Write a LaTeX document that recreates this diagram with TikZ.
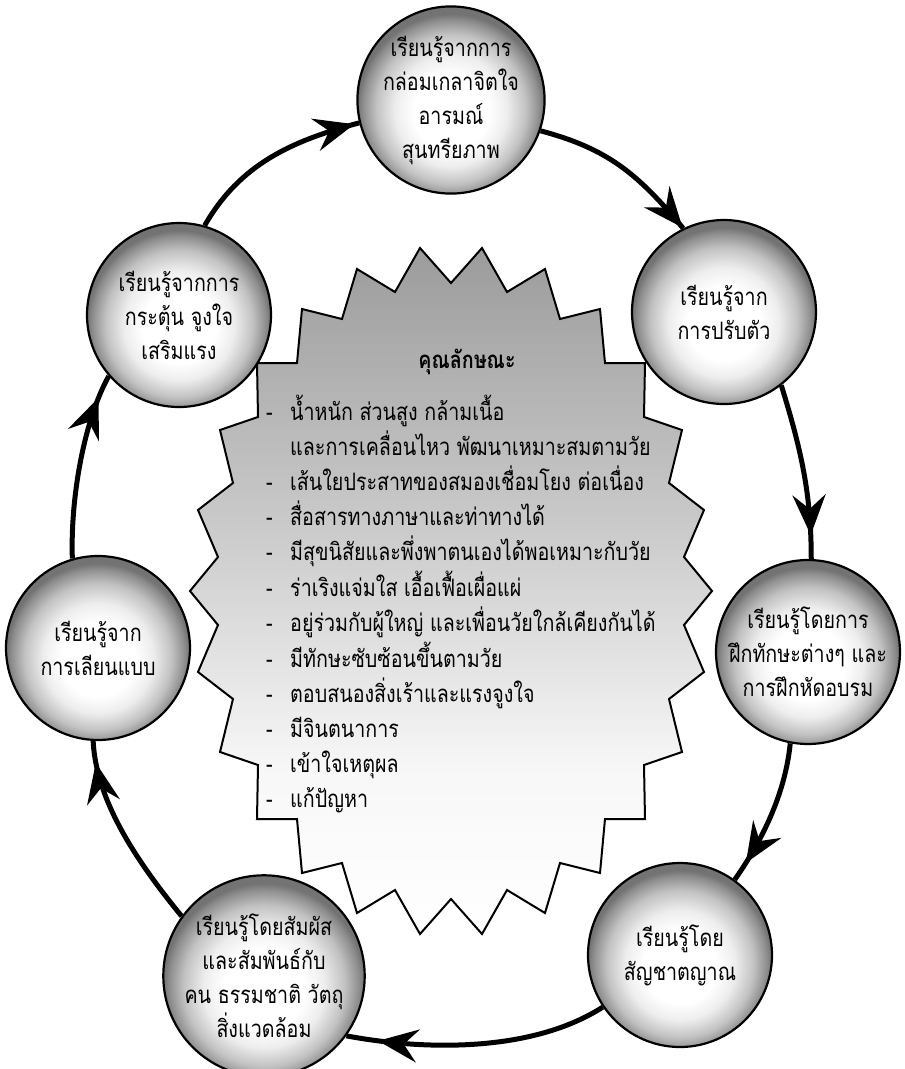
\documentclass[tikz,border=0pt]{standalone}
\usepackage{fontspec}
\setmainfont[Script=Thai,FakeStretch=0.82]{Loma}
\usetikzlibrary{arrows.meta,decorations.markings}
\pgfdeclareradialshading{ballshade}{\pgfpoint{0bp}{-4bp}}{color(0bp)=(white); color(10bp)=(white); color(15bp)=(black!7); color(20bp)=(black!24); color(23.5bp)=(black!44); color(25bp)=(black!55); color(50bp)=(black!55)}
\pgfdeclareverticalshading{starshade}{100bp}{color(0bp)=(white); color(25bp)=(white); color(37bp)=(black!3); color(55bp)=(black!21); color(75bp)=(black!39); color(100bp)=(black!39)}
\begin{document}
\begin{tikzpicture}[x=1pt,y=-1pt,
  ball/.style={circle,draw=black,line width=2.2pt,minimum size=184pt,inner sep=0pt,shading=ballshade,align=center,font=\fontsize{24}{34}\selectfont},
  conn/.style={line width=5pt},
  tipat/.style={postaction={decorate,decoration={markings,mark=at position #1 with {\arrow{Stealth[length=40pt,width=33pt,inset=14pt]}}}}},
  burst/.style={draw=black,line width=2pt,line join=miter,shading=starshade},
  listtext/.style={font=\fontsize{24}{35}\selectfont},
  titletext/.style={font=\fontsize{24}{35}\selectfont\bfseries}]
\useasboundingbox (0,0) rectangle (905,1069);

% central starburst
\begin{scope}[shift={(451,591)}]
\path[burst] (0,-308) -- (31,-343) -- (56,-299) -- (94,-322) -- (109,-272) -- (149,-282)
 -- (154,-228) -- (194,-228) -- (193,-174) -- (231,-161) -- (218,-108) -- (253,-81)
 -- (233,-34) -- (261,0) -- (233,34) -- (253,81) -- (218,108) -- (231,161) -- (193,174)
 -- (194,228) -- (154,228) -- (149,282) -- (109,272) -- (94,322) -- (56,299) -- (31,343)
 -- (0,308) -- (-31,343) -- (-56,299) -- (-94,322) -- (-109,272) -- (-149,282)
 -- (-154,228) -- (-194,228) -- (-193,174) -- (-231,161) -- (-218,108) -- (-253,81)
 -- (-233,34) -- (-261,0) -- (-233,-34) -- (-253,-81) -- (-218,-108) -- (-231,-161)
 -- (-193,-174) -- (-194,-228) -- (-154,-228) -- (-149,-282) -- (-109,-272) -- (-94,-322)
 -- (-56,-299) -- (-31,-343) -- cycle;
\end{scope}

\node[titletext,anchor=base] (title) at (467,368) {คุณลักษณะ};
\node[listtext,anchor=base west,inner sep=0pt] (list) at (266,420) {\begin{tabular}[t]{@{}p{24pt}@{}l@{}}
-&น้ำหนัก ส่วนสูง กล้ามเนื้อ\\
&และการเคลื่อนไหว พัฒนาเหมาะสมตามวัย\\
-&เส้นใยประสาทของสมองเชื่อมโยง ต่อเนื่อง\\
-&สื่อสารทางภาษาและท่าทางได้\\
-&มีสุขนิสัยและพึ่งพาตนเองได้พอเหมาะกับวัย\\
-&ร่าเริงแจ่มใส เอื้อเฟื้อเผื่อแผ่\\
-&อยู่ร่วมกับผู้ใหญ่ และเพื่อนวัยใกล้เคียงกันได้\\
-&มีทักษะซับซ้อนขึ้นตามวัย\\
-&ตอบสนองสิ่งเร้าและแรงจูงใจ\\
-&มีจินตนาการ\\
-&เข้าใจเหตุผล\\
-&แก้ปัญหา
\end{tabular}};

% circles
\node[ball] (c1) at (451,100) {เรียนรู้จากการ\\กล่อมเกลาจิตใจ\\อารมณ์\\สุนทรียภาพ};
\node[ball] (c2) at (724,312) {เรียนรู้จาก\\การปรับตัว};
\node[ball] (c3) at (808,652) {เรียนรู้โดยการ\\ฝึกทักษะต่างๆ และ\\การฝึกหัดอบรม};
\node[ball] (c4) at (680,955) {เรียนรู้โดย\\สัญชาตญาณ};
\node[ball] (c5) at (264,976) {เรียนรู้โดยสัมผัส\\และสัมพันธ์กับ\\คน ธรรมชาติ วัตถุ\\สิ่งแวดล้อม};
\node[ball] (c6) at (98,648) {เรียนรู้จาก\\การเลียนแบบ};
\node[ball] (c7) at (179,315) {เรียนรู้จากการ\\กระตุ้น จูงใจ\\เสริมแรง};

% connectors
\draw[conn,tipat=-5pt] (c7.74) .. controls +(35,-61) and +(-68,18) .. (c1.194);
\draw[conn,tipat=-1pt] (c1.341) .. controls +(68,18) and +(-45,-54) .. (c2.116);
\draw[conn,tipat=-24pt] (c2.308) .. controls +(20,65) and +(0,-65) .. (c3.88);
\draw[conn,tipat=-20pt] (c3.259) .. controls +(-5,50) and +(28,-40) .. (c4.54);
\draw[conn,tipat=-32pt] (c4.214) .. controls +(-70,45) and +(80,15) .. (c5.324);
\draw[conn,tipat=-22pt] (c5.144) .. controls +(-45,-55) and +(3,60) .. (c6.267);
\draw[conn,tipat=-24pt] (c6.106) .. controls +(-2,-60) and +(-25,45) .. (c7.221);
\end{tikzpicture}
\end{document}
